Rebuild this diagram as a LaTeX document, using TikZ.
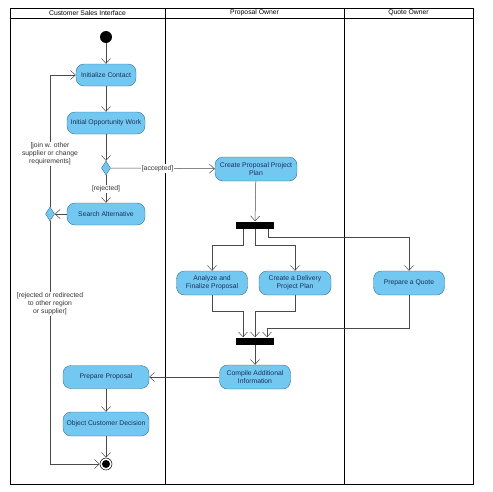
\documentclass[tikz,border=0pt]{standalone}
\usepackage{fontspec}
\setmainfont{Liberation Sans}
\usetikzlibrary{shapes.geometric,arrows.meta}
\definecolor{actfill}{HTML}{73C8F2}
\definecolor{actline}{HTML}{3A6F8F}
\definecolor{acttext}{HTML}{1C2F5A}
\definecolor{flowgray}{HTML}{4A4A4A}
\begin{document}
\begin{tikzpicture}[x=1pt,y=-1pt,
    every node/.style={font=\fontsize{6.8}{8}\selectfont},
    activity/.style={draw=actline,fill=actfill,text=acttext,rounded corners=8pt,
      align=center,minimum height=22pt,inner sep=1pt},
    decision/.style={diamond,draw=actline,fill=actfill,minimum width=9pt,
      minimum height=14pt,inner sep=0pt},
    bar/.style={fill=black,minimum width=38pt,minimum height=7pt,inner sep=0pt},
    flow/.style={draw=flowgray,line width=0.5pt,-{Straight Barb[length=5pt,width=9pt]}},
    guard/.style={fill=white,text=black!80,align=center,inner sep=1pt}]
    \useasboundingbox (0,0) rectangle (493,491);
    % swimlanes
    \draw[line width=0.9pt] (10,8) rectangle (473,484);
    \draw[line width=0.6pt] (10,18) -- (473,18);
    \foreach \x in {165,344}
      \draw[line width=0.9pt] (\x,8) -- (\x,484);
    \node (laneA) at (87.5,13) {Customer Sales Interface};
    \node (laneB) at (254.5,13) {Proposal Owner};
    \node (laneC) at (408.5,13) {Quote Owner};
    % nodes
    \node[circle,fill=black,minimum size=12pt,inner sep=0pt] (start) at (106,37) {};
    \node[activity,minimum width=60pt] (init) at (106,75) {Initialize Contact};
    \node[activity,minimum width=78pt] (opp) at (106,123) {Initial Opportunity Work};
    \node[decision] (dec1) at (106,168) {};
    \node[activity,minimum width=78pt] (search) at (106,214) {Search Alternative};
    \node[decision] (dec2) at (50,214) {};
    \node[activity,minimum width=82pt,minimum height=24pt] (plan) at (256,169)
      {Create Proposal Project\\Plan};
    \node[bar] (fork) at (255,225) {};
    \node[activity,minimum width=71pt,minimum height=24pt] (analyze) at (212,283)
      {Analyze and\\Finalize Proposal};
    \node[activity,minimum width=72pt,minimum height=24pt] (delivery) at (295,283)
      {Create a Delivery\\Project Plan};
    \node[activity,minimum width=71pt,minimum height=24pt] (quote) at (409,283)
      {Prepare a Quote};
    \node[bar] (join) at (255,341) {};
    \node[activity,minimum width=71pt,minimum height=24pt] (compile) at (255,377)
      {Compile Additional\\Information};
    \node[activity,minimum width=86pt,minimum height=23pt] (proposal) at (106,377)
      {Prepare Proposal};
    \node[activity,minimum width=86pt,minimum height=24pt] (decision) at (106,424)
      {Object Customer Decision};
    \node[circle,draw=black,fill=white,line width=0.5pt,minimum size=12pt,inner sep=0pt]
      (final) at (106,464) {};
    \fill (final) circle (4pt);
    % flows
    \draw[flow] (start) -- (init);
    \draw[flow] (init) -- (opp);
    \draw[flow] (opp) -- (dec1);
    \draw[flow] (dec1) -- node[guard,pos=0.45] (acc) {[accepted]} (plan);
    \draw[flow] (dec1) -- node[guard] (rej) {[rejected]} (search);
    \draw[flow] (search) -- (dec2);
    \draw[flow] (dec2) |- node[guard,pos=0.2] (joinw)
      {[join w. other\\supplier or change\\requirements]} (init);
    \draw[flow] (dec2) |- node[guard,pos=0.17] (redir)
      {[rejected or redirected\\to other region\\or supplier]} (final);
    \draw[flow] (plan) -- (fork);
    \draw[flow] ([xshift=-12pt]fork.south) -- ++(0,17) -| (analyze);
    \draw[flow] (fork.south) -- ++(0,17) -| (delivery);
    \draw[flow] ([xshift=13pt]fork.south) -- ++(0,9) -| (quote);
    \draw[flow] (analyze.south) -- ++(0,16) -| ([xshift=-12pt]join.north);
    \draw[flow] (delivery.south) -- ++(0,16) -| (join.north);
    \draw[flow] (quote.south) -- ++(0,33) -| ([xshift=12pt]join.north);
    \draw[flow] (join) -- (compile);
    \draw[flow] (compile) -- (proposal);
    \draw[flow] (proposal) -- (decision);
    \draw[flow] (decision) -- (final);
  \end{tikzpicture}
\end{document}
